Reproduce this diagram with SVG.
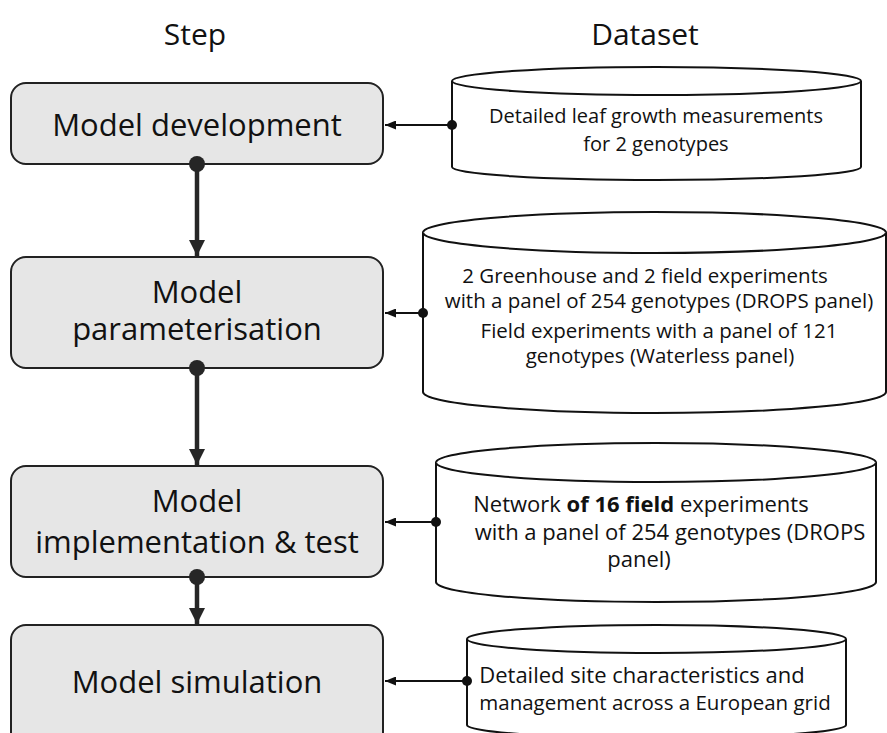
<svg xmlns="http://www.w3.org/2000/svg" width="887" height="733" viewBox="0 0 887 733">
<style>
  text { font-family: "Open Sans", "Noto Sans", "Liberation Sans", sans-serif; fill: #111; text-anchor: middle; }
  .hdr { font-size: 30px; }
  .step { font-size: 31px; }
  .box { fill: #e6e6e6; stroke: #222; stroke-width: 2; }
  .cyl { fill: #fff; stroke: #111; stroke-width: 2; }
  .flow { stroke: #262626; stroke-width: 4.5; fill: none; }
  .side { stroke: #111; stroke-width: 2; fill: none; }
  .d20 { font-size: 20px; }
  .d21 { font-size: 20.5px; }
  .d22 { font-size: 22px; }
</style>
<defs>
  <marker id="bigArrow" markerUnits="userSpaceOnUse" markerWidth="16" markerHeight="16" refX="16" refY="8" orient="auto">
    <path d="M0,0 L16,8 L0,16 Z" fill="#262626"/>
  </marker>
  <marker id="smallArrow" markerUnits="userSpaceOnUse" markerWidth="11" markerHeight="9" refX="11" refY="4.5" orient="auto">
    <path d="M0,0 L11,4.5 L0,9 Z" fill="#111"/>
  </marker>
</defs>

<g id="headers">
  <text class="hdr" x="195" y="45">Step</text>
  <text class="hdr" x="645" y="45">Dataset</text>
</g>

<g id="step1">
  <rect class="box" x="11" y="83" width="372" height="81" rx="15"/>
  <text class="step" x="197" y="136">Model development</text>
</g>
<g id="step2">
  <rect class="box" x="11" y="257" width="372" height="111" rx="15"/>
  <text class="step" x="197" y="303">Model</text>
  <text class="step" x="197" y="340">parameterisation</text>
</g>
<g id="step3">
  <rect class="box" x="11" y="466" width="372" height="111" rx="15"/>
  <text class="step" x="197" y="512">Model</text>
  <text class="step" x="197" y="553">implementation &amp; test</text>
</g>
<g id="step4">
  <rect class="box" x="11" y="625" width="372" height="125" rx="15"/>
  <text class="step" x="197" y="693">Model simulation</text>
</g>

<g id="data1">
  <path class="cyl" d="M452,81 A204.5,14 0 0 1 861,81 L861,167 A204.5,13 0 0 1 452,167 Z"/>
  <path class="cyl" d="M452,81 A204.5,14 0 0 0 861,81" fill="none"/>
  <text class="d20" x="656" y="123">Detailed leaf growth measurements</text>
  <text class="d20" x="656" y="151">for 2 genotypes</text>
</g>
<g id="data2">
  <path class="cyl" d="M423,232.5 A231.5,20.5 0 0 1 886,232.5 L886,392 A231.5,21 0 0 1 423,392 Z"/>
  <path class="cyl" d="M423,232.5 A231.5,20.5 0 0 0 886,232.5" fill="none"/>
  <text class="d21" x="645" y="283">2 Greenhouse and 2 field experiments</text>
  <text class="d21" x="659" y="308">with a panel of 254 genotypes (DROPS panel)</text>
  <text class="d21" x="659" y="338">Field experiments with a panel of 121</text>
  <text class="d21" x="660" y="363">genotypes (Waterless panel)</text>
</g>
<g id="data3">
  <path class="cyl" d="M436,462.5 A220,19.5 0 0 1 876,462.5 L876,582 A220,20 0 0 1 436,582 Z"/>
  <path class="cyl" d="M436,462.5 A220,19.5 0 0 0 876,462.5" fill="none"/>
  <text class="d22" x="641" y="512">Network <tspan font-weight="bold">of 16 field</tspan> experiments</text>
  <text class="d22" x="670" y="540">with a panel of 254 genotypes (DROPS</text>
  <text class="d22" x="639" y="567">panel)</text>
</g>
<g id="data4">
  <path class="cyl" d="M467,639 A189.5,14 0 0 1 846,639 L846,725 A189.5,13 0 0 1 467,725 Z"/>
  <path class="cyl" d="M467,639 A189.5,14 0 0 0 846,639" fill="none"/>
  <text class="d22" x="642" y="683">Detailed site characteristics and</text>
  <text class="d21" x="655" y="710">management across a European grid</text>
</g>

<g id="connectors">
  <line class="flow" x1="197" y1="164" x2="197" y2="256" marker-end="url(#bigArrow)"/>
  <circle cx="197" cy="164" r="8" fill="#262626"/>
  <line class="flow" x1="197" y1="368" x2="197" y2="465" marker-end="url(#bigArrow)"/>
  <circle cx="197" cy="368" r="8" fill="#262626"/>
  <line class="flow" x1="197" y1="577" x2="197" y2="624" marker-end="url(#bigArrow)"/>
  <circle cx="197" cy="577" r="8" fill="#262626"/>

  <line class="side" x1="452" y1="125" x2="385" y2="125" marker-end="url(#smallArrow)"/>
  <circle cx="452" cy="125" r="5" fill="#111"/>
  <line class="side" x1="423" y1="313" x2="385" y2="313" marker-end="url(#smallArrow)"/>
  <circle cx="423" cy="313" r="5" fill="#111"/>
  <line class="side" x1="436" y1="522" x2="385" y2="522" marker-end="url(#smallArrow)"/>
  <circle cx="436" cy="522" r="5" fill="#111"/>
  <line class="side" x1="467" y1="681" x2="385" y2="681" marker-end="url(#smallArrow)"/>
  <circle cx="467" cy="681" r="5" fill="#111"/>
</g>
</svg>
